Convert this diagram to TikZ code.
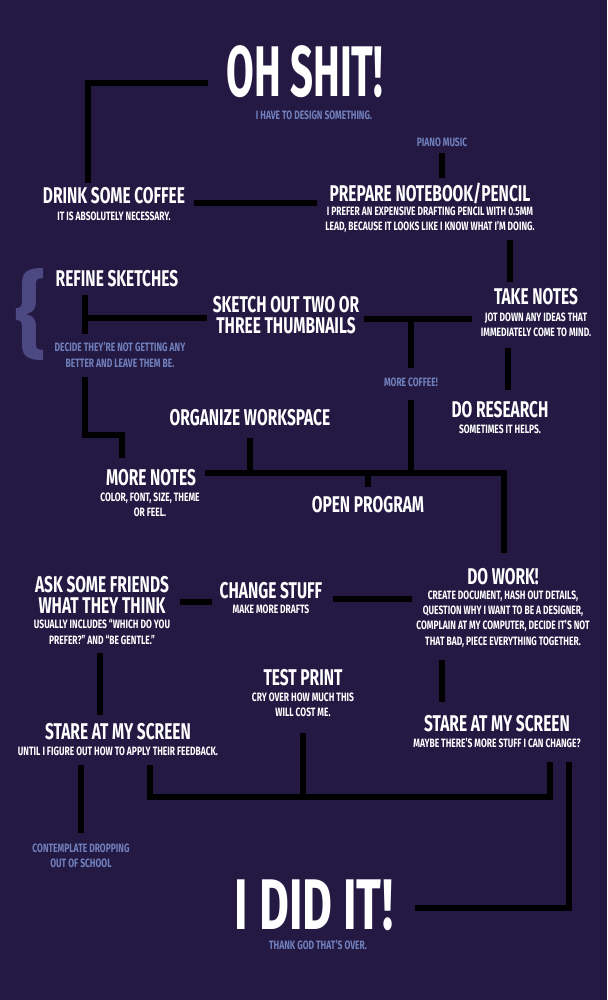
\documentclass[tikz,border=0pt]{standalone}
\usepackage{fontspec}
\usepackage{xcolor}
\usepackage{tikz}
\newfontfamily\flowfont[FakeStretch=0.68]{Fira Sans}
\newfontfamily\subflowfont[FakeStretch=0.70]{Fira Sans}
\newfontfamily\bigflowfont[FakeStretch=0.56]{Fira Sans}
\newfontfamily\endflowfont[FakeStretch=0.64]{Fira Sans}
\newfontfamily\bracefont{Fira Sans}
\definecolor{nightpurple}{RGB}{35,25,67}
\definecolor{dimblue}{RGB}{113,128,188}
\definecolor{bracepurple}{RGB}{76,72,130}
\tikzset{
  bigttl/.style={text=white, inner sep=0pt, font=\bigflowfont\bfseries\fontsize{51}{51}\selectfont},
  stepttl/.style={text=white, inner sep=0pt, align=center,
                  font=\flowfont\bfseries\fontsize{16.2}{14.5}\selectfont},
  stepsub/.style={text=white, inner sep=0pt, align=center,
                  font=\subflowfont\bfseries\fontsize{8.6}{10.9}\selectfont},
  aside/.style={stepsub, text=dimblue},
  flow/.style={line width=3.9pt, black},
}

\begin{document}
\begin{tikzpicture}[x=0.025cm, y=-0.025cm]
    \fill[nightpurple] (0,0) rectangle (607,1000);
    % start
    \node[bigttl] (oh)  at (305,72)  {OH SHIT!};
    \node[aside]  (ohs) at (314,115) {I HAVE TO DESIGN SOMETHING.};
    \node[aside]  (piano) at (442,142) {PIANO MUSIC};
    \node[stepttl] (coffee)  at (114,196) {DRINK SOME COFFEE};
    \node[stepsub] (coffees) at (114,216) {IT IS ABSOLUTELY NECESSARY.};
    \node[stepttl] (prep)  at (430,193) {PREPARE NOTEBOOK/PENCIL};
    \node[stepsub] (preps) at (430,220) {I PREFER AN EXPENSIVE DRAFTING PENCIL WITH 0.5MM\\LEAD, BECAUSE IT LOOKS LIKE I KNOW WHAT I’M DOING.};
    % sketching
    \node[font=\bracefont\bfseries\fontsize{67}{67}\selectfont, text=bracepurple, inner sep=0pt] (brace) at (31,315) {\{};
    \node[stepttl] (refine)  at (117,279) {REFINE SKETCHES};
    \node[aside]   (refines) at (120,355) {DECIDE THEY’RE NOT GETTING ANY\\BETTER AND LEAVE THEM BE.};
    \node[stepttl] (sketch)  at (286,315) {SKETCH OUT TWO OR\\THREE THUMBNAILS};
    \node[stepttl] (notes)   at (536,297) {TAKE NOTES};
    \node[stepsub] (notess)  at (536,325) {JOT DOWN ANY IDEAS THAT\\IMMEDIATELY COME TO MIND.};
    \node[aside]   (morecoffee) at (411,382) {MORE COFFEE!};
    \node[stepttl] (research)  at (500,410) {DO RESEARCH};
    \node[stepsub] (researchs) at (500,429) {SOMETIMES IT HELPS.};
    \node[stepttl] (organize)  at (250,418) {ORGANIZE WORKSPACE};
    \node[stepttl] (morenotes)  at (151,478) {MORE NOTES};
    \node[stepsub] (morenotess) at (150,505) {COLOR, FONT, SIZE, THEME\\OR FEEL.};
    \node[stepttl] (open) at (368,505) {OPEN PROGRAM};
    % working
    \node[stepttl] (ask)  at (102,595) {ASK SOME FRIENDS\\WHAT THEY THINK};
    \node[stepsub] (asks) at (102,632) {USUALLY INCLUDES “WHICH DO YOU\\PREFER?” AND “BE GENTLE.”};
    \node[stepttl] (change)  at (271,591) {CHANGE STUFF};
    \node[stepsub] (changes) at (271,609) {MAKE MORE DRAFTS};
    \node[stepttl] (work)  at (503,577) {DO WORK!};
    \node[stepsub] (works) at (503,619) {CREATE DOCUMENT, HASH OUT DETAILS,\\QUESTION WHY I WANT TO BE A DESIGNER,\\COMPLAIN AT MY COMPUTER, DECIDE IT’S NOT\\THAT BAD, PIECE EVERYTHING TOGETHER.};
    \node[stepttl] (test)  at (303,678) {TEST PRINT};
    \node[stepsub] (tests) at (303,705) {CRY OVER HOW MUCH THIS\\WILL COST ME.};
    \node[stepttl] (stareL)  at (118,732) {STARE AT MY SCREEN};
    \node[stepsub] (stareLs) at (118,751) {UNTIL I FIGURE OUT HOW TO APPLY THEIR FEEDBACK.};
    \node[stepttl] (stareR)  at (497,724) {STARE AT MY SCREEN};
    \node[stepsub] (stareRs) at (497,743) {MAYBE THERE’S MORE STUFF I CAN CHANGE?};
    \node[aside]   (drop) at (81,856) {CONTEMPLATE DROPPING\\OUT OF SCHOOL};
    % end
    \node[bigttl, font=\endflowfont\bfseries\fontsize{51}{51}\selectfont] (did)  at (314,905) {I DID IT!};
    \node[aside]  (dids) at (318,945) {THANK GOD THAT’S OVER.};

    % connectors
    \draw[flow] ([shift={(-97,11)}]oh.center) -| ([shift={(-26,-13)}]coffee.center);
    \draw[flow] ([shift={(0,11)}]piano.center) -- ([shift={(12,-15)}]prep.center);
    \draw[flow] ([shift={(80,7)}]coffee.center) -- ([shift={(-113,10)}]prep.center);
    \draw[flow] ([shift={(80,20)}]preps.center) -- ([shift={(-26,-15)}]notes.center);
    \draw[flow] ([shift={(-28,23)}]notess.center) -- ([shift={(8,-20)}]research.center);
    \draw[flow] ([shift={(78,4)}]sketch.center) coordinate (thumbline) -- ([shift={(-64,-6)}]notess.center);
    \draw[flow] ([shift={(0,-14)}]morecoffee.center) -- (morecoffee.center |- thumbline);
    \draw[flow] ([shift={(-79,3)}]sketch.center) -- ([shift={(-32,39)}]refine.center);
    \draw[flow] ([shift={(-32,16)}]refine.center) -- ([shift={(-32,55)}]refine.center);
    \draw[flow] ([shift={(-32,98)}]refine.center) -- ([shift={(-32,156)}]refine.center) -| ([shift={(-29,-20)}]morenotes.center);
    \draw[flow] ([shift={(54,-5)}]morenotes.center) coordinate (bus) -| ([shift={(1,-24)}]work.center);
    \draw[flow] ([shift={(0,18)}]morecoffee.center) -- (morecoffee.center |- bus);
    \draw[flow] ([shift={(0,20)}]organize.center) -- (organize.center |- bus);
    \draw[flow] ([shift={(0,-18)}]open.center) -- (open.center |- bus);
    \draw[flow] ([shift={(78,7)}]ask.center) -- ([shift={(-59,11)}]change.center);
    \draw[flow] ([shift={(62,8)}]change.center) -- ([shift={(-91,22)}]work.center);
    \draw[flow] ([shift={(-2,21)}]asks.center) -- ([shift={(-18,-17)}]stareL.center);
    \draw[flow] ([shift={(-61,41)}]works.center) -- ([shift={(-55,-22)}]stareR.center);
    \draw[flow] ([shift={(32,14)}]stareLs.center) -- ([shift={(32,46)}]stareLs.center) coordinate (printbus) -| ([shift={(53,19)}]stareRs.center);
    \draw[flow] ([shift={(0,28)}]tests.center) -- (tests.center |- printbus);
    \draw[flow] ([shift={(-37,14)}]stareLs.center) -- ([shift={(0,-23)}]drop.center);
    \draw[flow] ([shift={(72,19)}]stareRs.center) |- ([shift={(101,3)}]did.center);
\end{tikzpicture}
\end{document}
